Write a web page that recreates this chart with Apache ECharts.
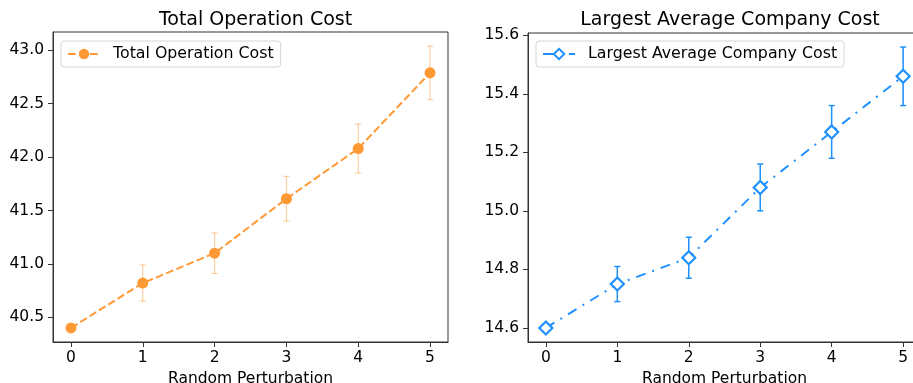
<!DOCTYPE html>
<html>
<head>
<meta charset="utf-8">
<script src="https://cdn.jsdelivr.net/npm/echarts@6/dist/echarts.min.js"></script>
<style>
html,body{margin:0;padding:0;background:#fff;}
#chart{width:913px;height:383px;}
</style>
</head>
<body>
<div id="chart"></div>
<script>
// ---- data ----
var perturbation = [0, 1, 2, 3, 4, 5];
var totalCost = [40.40, 40.82, 41.10, 41.61, 42.08, 42.79];
var totalCostErr = [0, 0.17, 0.19, 0.21, 0.23, 0.25];
var largestCost = [14.60, 14.75, 14.84, 15.08, 15.27, 15.46];
var largestCostErr = [0, 0.06, 0.07, 0.08, 0.09, 0.10];
var xTicks = [0, 1, 2, 3, 4, 5];
var leftYTicks = [40.5, 41.0, 41.5, 42.0, 42.5, 43.0];
var rightYTicks = [14.6, 14.8, 15.0, 15.2, 15.4, 15.6];
var titles = ['Total Operation Cost', 'Largest Average Company Cost'];
var xName = 'Random Perturbation';

var FONT = 'DejaVu Sans';
var ORANGE = '#ff9933';
var BLUE = '#1e90ff';

function pairs(xs, ys) { return xs.map(function (x, i) { return [x, ys[i]]; }); }
function errData(xs, ys, es) {
  return xs.map(function (x, i) { return [x, ys[i] - es[i], ys[i] + es[i]]; });
}
function errRender(color, width, opacity) {
  return function (params, api) {
    var x = api.value(0), lo = api.value(1), hi = api.value(2);
    if (hi - lo <= 0) return;
    var p1 = api.coord([x, lo]), p2 = api.coord([x, hi]);
    var cap = 3;
    var st = { stroke: color, lineWidth: width, opacity: opacity };
    return {
      type: 'group',
      children: [
        { type: 'line', shape: { x1: p1[0], y1: p1[1], x2: p2[0], y2: p2[1] }, style: st },
        { type: 'line', shape: { x1: p1[0] - cap, y1: p1[1], x2: p1[0] + cap, y2: p1[1] }, style: st },
        { type: 'line', shape: { x1: p2[0] - cap, y1: p2[1], x2: p2[0] + cap, y2: p2[1] }, style: st }
      ]
    };
  };
}

function xAxisOpt(gi) {
  return {
    type: 'value', gridIndex: gi, min: -0.25, max: 5.25,
    name: xName, nameLocation: 'middle', nameGap: 26,
    nameTextStyle: { fontFamily: FONT, fontSize: 15.5, color: '#000' },
    splitLine: { show: false },
    axisLine: { show: true, onZero: false, lineStyle: { color: '#333', width: 1 } },
    axisTick: { show: true, length: 5, customValues: xTicks, lineStyle: { color: '#333' } },
    axisLabel: { customValues: xTicks, margin: 8, fontFamily: FONT, fontSize: 15.5, color: '#000',
      formatter: function (v) { return String(Math.round(v)); } }
  };
}
function yAxisOpt(gi, min, max, ticks) {
  return {
    type: 'value', gridIndex: gi, min: min, max: max,
    splitLine: { show: false },
    axisLine: { show: true, onZero: false, lineStyle: { color: '#333', width: 1 } },
    axisTick: { show: true, length: 5, customValues: ticks, lineStyle: { color: '#333' } },
    axisLabel: { customValues: ticks, margin: 9, fontFamily: FONT, fontSize: 15.5, color: '#000',
      formatter: function (v) { return v.toFixed(1); } }
  };
}

var legendCommon = {
  orient: 'vertical',
  itemWidth: 32, itemHeight: 13, itemGap: 0,
  padding: [5, 7, 5, 6],
  borderColor: '#d6d6d6', borderWidth: 1, borderRadius: 3,
  backgroundColor: 'rgba(255,255,255,0.8)',
  textStyle: { fontFamily: FONT, fontSize: 15.8, color: '#000', padding: [0, 0, 0, 8] }
};

var option = {
  backgroundColor: '#fff',
  animation: false,
  title: [
    { text: titles[0], left: 250.5, textAlign: 'center', top: 6,
      textStyle: { fontFamily: FONT, fontSize: 19, fontWeight: 'normal', color: '#000' } },
    { text: titles[1], left: 725, textAlign: 'center', top: 6,
      textStyle: { fontFamily: FONT, fontSize: 19, fontWeight: 'normal', color: '#000' } }
  ],
  legend: [
    Object.assign({ data: [titles[0]], left: 61, top: 41 }, legendCommon),
    Object.assign({ data: [titles[1]], left: 536, top: 41 }, legendCommon)
  ],
  grid: [
    { left: 53, top: 32, width: 395, height: 310, outerBoundsMode: 'none', containLabel: false,
      show: true, borderColor: '#333', borderWidth: 1, backgroundColor: '#fff' },
    { left: 528, top: 33, width: 393, height: 309, outerBoundsMode: 'none', containLabel: false,
      show: true, borderColor: '#333', borderWidth: 1, backgroundColor: '#fff' }
  ],
  xAxis: [xAxisOpt(0), xAxisOpt(1)],
  yAxis: [
    yAxisOpt(0, 40.268, 43.172, leftYTicks),
    yAxisOpt(1, 14.552, 15.608, rightYTicks)
  ],
  series: [
    {
      type: 'custom', xAxisIndex: 0, yAxisIndex: 0, z: 1,
      renderItem: errRender(ORANGE, 1, 0.55),
      encode: { x: 0, y: [1, 2] },
      data: errData(perturbation, totalCost, totalCostErr)
    },
    {
      name: titles[0], type: 'line', xAxisIndex: 0, yAxisIndex: 0, z: 3,
      data: pairs(perturbation, totalCost),
      symbol: 'circle', symbolSize: 11,
      itemStyle: { color: ORANGE, borderWidth: 0 },
      lineStyle: { color: ORANGE, width: 2, type: [7.7, 3.3] }
    },
    {
      type: 'custom', xAxisIndex: 1, yAxisIndex: 1, z: 1,
      renderItem: errRender(BLUE, 1.5, 1),
      encode: { x: 0, y: [1, 2] },
      data: errData(perturbation, largestCost, largestCostErr)
    },
    {
      name: titles[1], type: 'line', xAxisIndex: 1, yAxisIndex: 1, z: 3,
      data: pairs(perturbation, largestCost),
      symbol: 'diamond', symbolSize: 13,
      itemStyle: { color: '#fff', borderColor: BLUE, borderWidth: 2.2 },
      lineStyle: { color: BLUE, width: 2, type: [10, 7, 2, 7] }
    }
  ]
};

var chart = echarts.init(document.getElementById('chart'), null, { renderer: 'canvas' });
chart.setOption(option);
</script>
</body>
</html>
